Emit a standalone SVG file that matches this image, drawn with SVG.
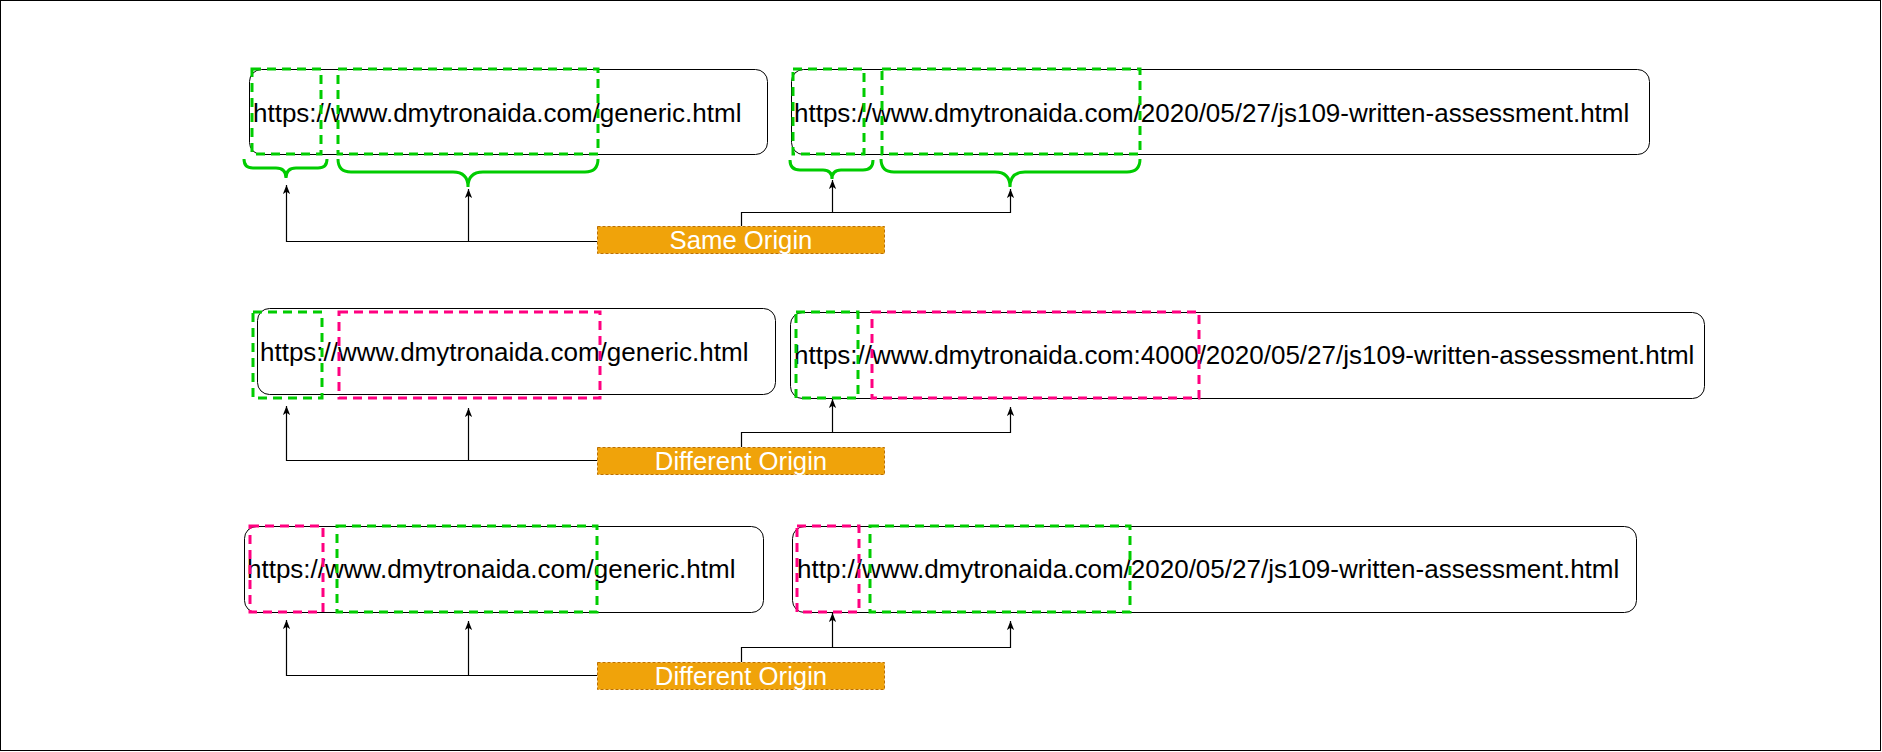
<svg xmlns="http://www.w3.org/2000/svg" width="1882" height="752" viewBox="0 0 1882 752">
  <defs>
    <marker id="arr" viewBox="0 0 10 8" refX="10" refY="4" markerWidth="9" markerHeight="7.2" markerUnits="userSpaceOnUse" orient="auto">
      <path d="M0,0 L10,4 L0,8 L2.5,4 z" fill="#000"/>
    </marker>
    <style>
      .url { fill: #fff; stroke: #000; stroke-width: 1; }
      .txt { font-family: "Liberation Sans", Arial, Helvetica, sans-serif; font-size: 26px; fill: #000; }
      .lbl { font-family: "Liberation Sans", Arial, Helvetica, sans-serif; font-size: 25.7px; fill: #fff; text-anchor: middle; }
      .g { fill: none; stroke: #00CC00; stroke-width: 3; stroke-dasharray: 9 6; }
      .p { fill: none; stroke: #FF0080; stroke-width: 3; stroke-dasharray: 9 6; }
      .brace { fill: none; stroke: #00CC00; stroke-width: 3; }
      .tag { fill: #f0a30a; stroke: #BD7000; stroke-width: 1; stroke-dasharray: 3 2; }
      .conn { fill: none; stroke: #000; stroke-width: 1.2; }
    </style>
  </defs>

  <rect x="0.5" y="0.5" width="1880" height="750" fill="#fff" stroke="#000" stroke-width="1"/>

  <!-- Row 1 -->
  <g id="r1-left">
    <rect class="url" x="249.5" y="69.5" width="518" height="85" rx="12"/>
    <text class="txt" x="253" y="121.5">https://www.dmytronaida.com/generic.html</text>
  </g>
  <g id="r1-right">
    <rect class="url" x="791.5" y="69.5" width="858" height="85" rx="12"/>
    <text class="txt" x="794" y="121.5">https://www.dmytronaida.com/2020/05/27/js109-written-assessment.html</text>
  </g>
  <g id="r1-marks">
    <rect class="g" x="252" y="69" width="69" height="85"/>
    <rect class="g" x="338" y="69" width="260" height="85"/>
    <rect class="g" x="793" y="69" width="71" height="85"/>
    <rect class="g" x="882" y="69" width="258" height="85"/>
  </g>
  <g id="r1-braces">
    <path class="brace" d="M244,159 Q244,168 253,168 L276,168 Q286,168 286,178 Q286,168 296,168 L318,168 Q327,168 327,159"/>
    <path class="brace" d="M338,159 Q338,172 351,172 L453,172 Q468,172 468,187 Q468,172 483,172 L585,172 Q598,172 598,159"/>
    <path class="brace" d="M790,160 Q790,170 800,170 L823,170 Q832,170 832,179 Q832,170 841,170 L863,170 Q873,170 873,160"/>
    <path class="brace" d="M881,159 Q881,172 894,172 L995,172 Q1010,172 1010,187 Q1010,172 1025,172 L1127,172 Q1140,172 1140,159"/>
  </g>
  <g id="r1-tag">
    <rect class="tag" x="597.5" y="226.5" width="287" height="27"/>
    <text class="lbl" x="741" y="249">Same Origin</text>
  </g>

  <!-- Row 2 -->
  <g id="r2-left">
    <rect class="url" x="257.5" y="308.5" width="518" height="86" rx="12"/>
    <text class="txt" x="260" y="361">https://www.dmytronaida.com/generic.html</text>
  </g>
  <g id="r2-right">
    <rect class="url" x="790.5" y="312.5" width="914" height="86" rx="12"/>
    <text class="txt" x="794" y="364">https://www.dmytronaida.com:4000/2020/05/27/js109-written-assessment.html</text>
  </g>
  <g id="r2-marks">
    <rect class="g" x="253" y="312" width="69" height="86"/>
    <rect class="p" x="339" y="312" width="261" height="86"/>
    <rect class="g" x="796" y="312" width="62" height="86"/>
    <rect class="p" x="872" y="312" width="327" height="86"/>
  </g>
  <g id="r2-tag">
    <rect class="tag" x="597.5" y="447.5" width="287" height="27"/>
    <text class="lbl" x="741" y="470">Different Origin</text>
  </g>

  <!-- Row 3 -->
  <g id="r3-left">
    <rect class="url" x="244.5" y="526.5" width="519" height="86" rx="12"/>
    <text class="txt" x="247" y="578">https://www.dmytronaida.com/generic.html</text>
  </g>
  <g id="r3-right">
    <rect class="url" x="792.5" y="526.5" width="844" height="86" rx="12"/>
    <text class="txt" x="797" y="578">http://www.dmytronaida.com/2020/05/27/js109-written-assessment.html</text>
  </g>
  <g id="r3-marks">
    <rect class="p" x="250" y="526" width="73" height="86"/>
    <rect class="g" x="337" y="526" width="260" height="86"/>
    <rect class="p" x="797" y="526" width="62" height="86"/>
    <rect class="g" x="870" y="526" width="260" height="86"/>
  </g>
  <g id="r3-tag">
    <rect class="tag" x="597.5" y="662.5" width="287" height="27"/>
    <text class="lbl" x="741" y="685">Different Origin</text>
  </g>

  <!-- Connectors -->
  <g id="connectors">
    <path class="conn" d="M597,241.5 L286.5,241.5 L286.5,185" marker-end="url(#arr)"/>
    <path class="conn" d="M468.5,241.5 L468.5,189" marker-end="url(#arr)"/>
    <path class="conn" d="M741.5,226 L741.5,212.5 L1010.5,212.5 L1010.5,189" marker-end="url(#arr)"/>
    <path class="conn" d="M832.5,212.5 L832.5,180" marker-end="url(#arr)"/>

    <path class="conn" d="M597,460.5 L286.5,460.5 L286.5,406" marker-end="url(#arr)"/>
    <path class="conn" d="M468.5,460.5 L468.5,408" marker-end="url(#arr)"/>
    <path class="conn" d="M741.5,447 L741.5,432.5 L1010.5,432.5 L1010.5,407" marker-end="url(#arr)"/>
    <path class="conn" d="M832.5,432.5 L832.5,399" marker-end="url(#arr)"/>

    <path class="conn" d="M597,675.5 L286.5,675.5 L286.5,620" marker-end="url(#arr)"/>
    <path class="conn" d="M468.5,675.5 L468.5,621" marker-end="url(#arr)"/>
    <path class="conn" d="M741.5,662 L741.5,647.5 L1010.5,647.5 L1010.5,621" marker-end="url(#arr)"/>
    <path class="conn" d="M832.5,647.5 L832.5,613" marker-end="url(#arr)"/>
  </g>
</svg>
